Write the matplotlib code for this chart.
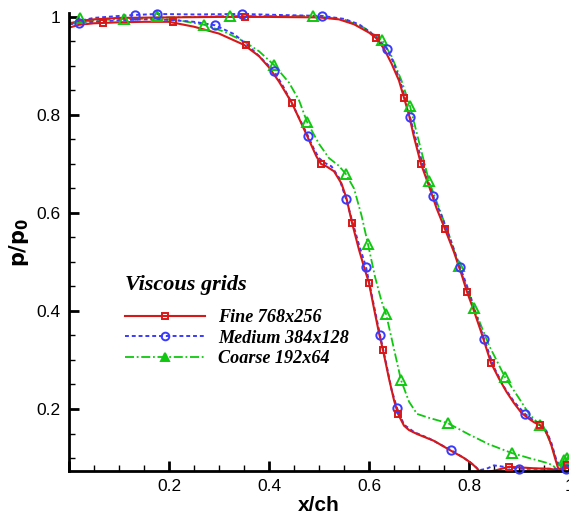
import matplotlib
matplotlib.use("Agg")
import matplotlib.pyplot as plt
from matplotlib.lines import Line2D
from matplotlib.ticker import MultipleLocator

# ── data: surface pressure p/p0 vs x/ch, two branches per grid ────────────────

# fine grid 768x256
fine_low_x = [0.0, 0.02, 0.05, 0.1, 0.15, 0.2, 0.25, 0.3, 0.35, 0.38, 0.4, 0.42, 0.446, 0.475,
              0.495, 0.504, 0.515, 0.53, 0.545, 0.555, 0.566, 0.58, 0.59, 0.6, 0.61, 0.62, 0.628,
              0.64, 0.65, 0.658, 0.67, 0.68, 0.696, 0.73, 0.762, 0.79, 0.804, 0.815, 0.822, 0.835,
              0.85, 0.88, 0.9, 0.93, 0.96, 0.975, 0.985, 0.995, 1.0]
fine_low_y = [0.978, 0.984, 0.987, 0.989, 0.99, 0.99, 0.98, 0.966, 0.943, 0.92, 0.897, 0.868,
              0.824, 0.76, 0.715, 0.70, 0.695, 0.685, 0.66, 0.63, 0.58, 0.525, 0.49, 0.457, 0.405,
              0.355, 0.32, 0.262, 0.218, 0.19, 0.166, 0.157, 0.149, 0.135, 0.116, 0.1, 0.09, 0.08,
              0.072, 0.072, 0.074, 0.082, 0.081, 0.079, 0.078, 0.076, 0.072, 0.08, 0.09]
fine_up_x = [0.0, 0.02, 0.05, 0.1, 0.2, 0.3, 0.4, 0.5, 0.54, 0.57, 0.6, 0.614, 0.63, 0.645, 0.66,
             0.67, 0.68, 0.69, 0.704, 0.72, 0.735, 0.752, 0.77, 0.785, 0.796, 0.81, 0.825, 0.844,
             0.86, 0.875, 0.89, 0.905, 0.92, 0.93, 0.942, 0.95, 0.958, 0.965, 0.972, 0.978, 0.985,
             0.992, 1.0]
fine_up_y = [0.985, 0.992, 0.995, 0.998, 0.999, 1.0, 1.0, 0.999, 0.995, 0.985, 0.968, 0.957,
             0.935, 0.905, 0.87, 0.835, 0.80, 0.755, 0.70, 0.655, 0.61, 0.567, 0.52, 0.475, 0.439,
             0.40, 0.355, 0.294, 0.262, 0.235, 0.212, 0.192, 0.18, 0.173, 0.167, 0.16, 0.145, 0.125,
             0.1, 0.08, 0.075, 0.08, 0.092]
fine_mk_x = [0.068, 0.208, 0.354, 0.446, 0.504, 0.566, 0.6, 0.628, 0.658, 0.88,
             0.352, 0.614, 0.67, 0.704, 0.752, 0.796, 0.844, 0.942, 0.995]
fine_mk_y = [0.988, 0.99, 0.943, 0.824, 0.70, 0.58, 0.457, 0.32, 0.19, 0.082,
             1.0, 0.957, 0.835, 0.70, 0.567, 0.439, 0.294, 0.167, 0.085]

# medium grid 384x128
med_low_x = [0.0, 0.02, 0.05, 0.1, 0.15, 0.2, 0.25, 0.292, 0.33, 0.36, 0.39, 0.41, 0.43, 0.45,
             0.478, 0.49, 0.5, 0.51, 0.525, 0.54, 0.554, 0.566, 0.58, 0.594, 0.608, 0.622, 0.635,
             0.645, 0.656, 0.67, 0.69, 0.72, 0.764, 0.79, 0.81, 0.82, 0.835, 0.85, 0.87, 0.9, 0.94,
             0.97, 0.985, 0.994, 1.0]
med_low_y = [0.985, 0.988, 0.99, 0.993, 0.995, 0.994, 0.99, 0.983, 0.965, 0.94, 0.91, 0.89,
             0.855, 0.815, 0.757, 0.73, 0.712, 0.703, 0.695, 0.672, 0.629, 0.585, 0.535, 0.49, 0.42,
             0.351, 0.29, 0.24, 0.202, 0.168, 0.153, 0.14, 0.116, 0.1, 0.085, 0.075, 0.078, 0.085,
             0.082, 0.078, 0.078, 0.078, 0.076, 0.078, 0.085]
med_up_x = [0.0, 0.02, 0.05, 0.1, 0.132, 0.176, 0.25, 0.346, 0.42, 0.506, 0.55, 0.58, 0.61,
            0.636, 0.65, 0.665, 0.682, 0.695, 0.71, 0.728, 0.745, 0.765, 0.782, 0.8, 0.815, 0.83,
            0.85, 0.87, 0.89, 0.912, 0.93, 0.945, 0.955, 0.965, 0.975, 0.985, 1.0]
med_up_y = [0.985, 0.992, 0.998, 1.002, 1.004, 1.006, 1.005, 1.006, 1.004, 1.002, 0.996, 0.985,
            0.963, 0.935, 0.905, 0.86, 0.796, 0.745, 0.69, 0.635, 0.595, 0.54, 0.49, 0.44, 0.39,
            0.343, 0.285, 0.245, 0.215, 0.19, 0.176, 0.168, 0.155, 0.13, 0.095, 0.075, 0.09]
med_mk_x = [0.02, 0.292, 0.41, 0.478, 0.554, 0.594, 0.622, 0.656, 0.764, 0.9, 0.994,
            0.132, 0.176, 0.346, 0.506, 0.636, 0.682, 0.728, 0.782, 0.83, 0.912]
med_mk_y = [0.988, 0.983, 0.89, 0.757, 0.629, 0.49, 0.351, 0.202, 0.116, 0.078, 0.078,
            1.004, 1.006, 1.006, 1.002, 0.935, 0.796, 0.635, 0.49, 0.343, 0.19]

# coarse grid 192x64
coarse_low_x = [0.0, 0.02, 0.05, 0.11, 0.176, 0.22, 0.27, 0.31, 0.35, 0.38, 0.41, 0.44, 0.46,
                0.476, 0.5, 0.52, 0.54, 0.554, 0.57, 0.585, 0.598, 0.612, 0.625, 0.634, 0.645,
                0.664, 0.68, 0.696, 0.72, 0.758, 0.8, 0.84, 0.886, 0.92, 0.956, 0.968, 0.976,
                0.985, 0.993, 1.0]
coarse_low_y = [0.988, 0.99, 0.993, 0.996, 0.996, 0.993, 0.984, 0.97, 0.95, 0.93, 0.902, 0.866,
                0.83, 0.786, 0.741, 0.712, 0.696, 0.679, 0.65, 0.595, 0.536, 0.47, 0.42, 0.394,
                0.345, 0.259, 0.215, 0.19, 0.182, 0.171, 0.148, 0.128, 0.11, 0.1, 0.09, 0.085,
                0.075, 0.085, 0.095, 0.105]
coarse_up_x = [0.0, 0.05, 0.1, 0.2, 0.322, 0.42, 0.488, 0.55, 0.59, 0.626, 0.645, 0.665, 0.682,
               0.7, 0.72, 0.74, 0.76, 0.78, 0.81, 0.84, 0.872, 0.9, 0.92, 0.942, 0.955, 0.965,
               0.975, 0.985, 0.993, 1.0]
coarse_up_y = [0.985, 0.993, 0.997, 0.999, 1.002, 1.002, 1.002, 0.995, 0.978, 0.953, 0.92, 0.87,
               0.818, 0.745, 0.665, 0.61, 0.555, 0.492, 0.406, 0.33, 0.265, 0.222, 0.19, 0.167,
               0.15, 0.125, 0.095, 0.08, 0.09, 0.1]
coarse_mk_x = [0.11, 0.27, 0.41, 0.476, 0.554, 0.598, 0.634, 0.664, 0.758, 0.886, 0.99,
               0.022, 0.176, 0.322, 0.488, 0.626, 0.682, 0.72, 0.78, 0.81, 0.872, 0.942, 0.995]
coarse_mk_y = [0.996, 0.984, 0.902, 0.786, 0.679, 0.536, 0.394, 0.259, 0.171, 0.11, 0.095,
               0.998, 1.002, 1.002, 1.002, 0.953, 0.818, 0.665, 0.492, 0.406, 0.265, 0.167, 0.1]

legend_title = "Viscous grids"
labels = ["Fine 768x256", "Medium 384x128", "Coarse 192x64"]

# ── styles ────────────────────────────────────────────────────────────────────
RED, BLUE, GREEN = "#d81818", "#3a3aff", "#10c810"
styles = [
    dict(color=RED, ls="-", lw=1.5, marker="s", ms=5.0, mfc="none", mec=RED, mew=1.4),
    dict(color=BLUE, ls=(0, (2, 1.5)), lw=1.4, marker="o", ms=6.0, mfc="none", mec=BLUE, mew=1.4),
    dict(color=GREEN, ls=(0, (5, 1.5, 1, 1.5)), lw=1.3, marker="^", ms=6.5, mfc="none", mec=GREEN, mew=1.4),
]
series = [
    (fine_low_x, fine_low_y, fine_up_x, fine_up_y, fine_mk_x, fine_mk_y),
    (med_low_x, med_low_y, med_up_x, med_up_y, med_mk_x, med_mk_y),
    (coarse_low_x, coarse_low_y, coarse_up_x, coarse_up_y, coarse_mk_x, coarse_mk_y),
]

fig = plt.figure(figsize=(5.69, 5.16), dpi=100)
ax = fig.add_axes([69 / 569, 45 / 516, 500 / 569, 458 / 516])

for (lx, ly, ux, uy, mx, my), st in zip(series[::-1], styles[::-1]):
    line_kw = dict(color=st["color"], ls=st["ls"], lw=st["lw"])
    ax.plot(lx, ly, **line_kw)
    ax.plot(ux, uy, **line_kw)
    ax.plot(mx, my, ls="none", marker=st["marker"], ms=st["ms"], mfc=st["mfc"],
            mec=st["mec"], mew=st["mew"], clip_on=False, zorder=4)

# legend handles: filled marker for the coarse grid as in the key
handles = []
for st, lab in zip(styles, labels):
    mfc = GREEN if st["marker"] == "^" else "none"
    handles.append(Line2D([], [], color=st["color"], ls=st["ls"], lw=st["lw"],
                          marker=st["marker"], ms=st["ms"] - 0.5, mfc=mfc,
                          mec=st["mec"], mew=st["mew"], label=lab))

ax.set_xlim(0, 1.0)
ax.set_ylim(0.0735, 1.008)

ax.xaxis.set_major_locator(MultipleLocator(0.2))
ax.xaxis.set_minor_locator(MultipleLocator(0.05))
ax.yaxis.set_major_locator(MultipleLocator(0.2))
ax.yaxis.set_minor_locator(MultipleLocator(0.05))
ax.xaxis.set_major_formatter(plt.FuncFormatter(lambda v, p: f"{v:g}" if v > 0.01 else ""))
ax.yaxis.set_major_formatter(plt.FuncFormatter(lambda v, p: f"{v:g}"))

for side in ["top", "right"]:
    ax.spines[side].set_visible(False)
for side in ["left", "bottom"]:
    ax.spines[side].set_linewidth(2.0)

ax.tick_params(which="major", direction="in", length=7, width=2.0,
               labelsize=12.5, pad=6)
ax.tick_params(which="minor", direction="in", length=4, width=1.0)
for t in ax.get_xticklabels() + ax.get_yticklabels():
    t.set_family("Liberation Sans")

ax.set_xlabel("x/ch", fontsize=15, fontweight="bold", family="Liberation Sans", labelpad=1)
ax.set_ylabel(r"$\mathbf{p/p_0}$", fontsize=15, family="Liberation Sans", labelpad=4)

# legend title drawn separately so the gap to the entries matches the key
ax.text(0.112, 0.407, legend_title, transform=ax.transAxes, ha="left", va="center",
        family="Liberation Serif", weight="bold", style="italic", fontsize=16)
ax.legend(handles=handles, loc="upper left", bbox_to_anchor=(0.08, 0.389),
          frameon=False, handlelength=4.4, handletextpad=0.7, labelspacing=0.2,
          prop=dict(family="Liberation Serif", weight="bold", style="italic", size=13.1))

fig.savefig("out.png", dpi=100)
